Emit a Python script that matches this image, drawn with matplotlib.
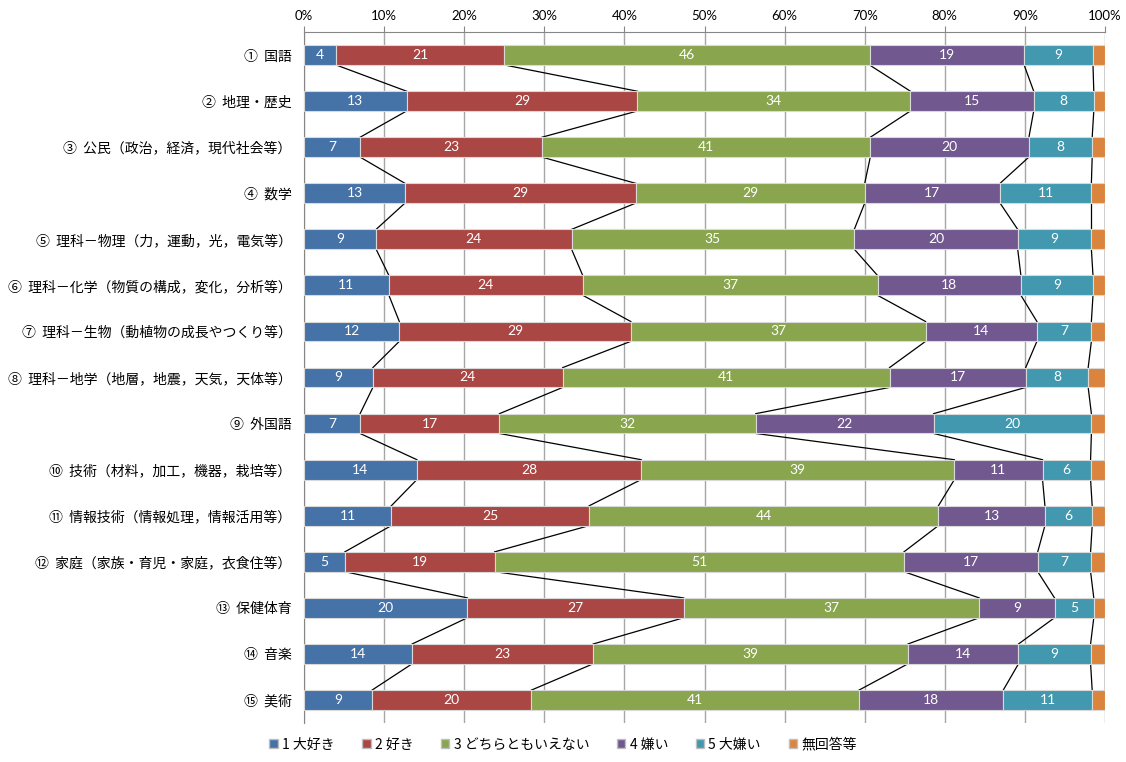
import numpy as np
from matplotlib import pyplot as plt
from matplotlib.patches import Patch

plt.rcParams['font.family'] = ['Noto Sans CJK JP', 'DejaVu Sans']

categories = ['①  国語', '②  地理・歴史', '③  公民（政治，経済，現代社会等）', '④  数学',
              '⑤  理科－物理（力，運動，光，電気等）', '⑥  理科－化学（物質の構成，変化，分析等）',
              '⑦  理科－生物（動植物の成長やつくり等）', '⑧  理科－地学（地層，地震，天気，天体等）',
              '⑨  外国語', '⑩  技術（材料，加工，機器，栽培等）', '⑪  情報技術（情報処理，情報活用等）',
              '⑫  家庭（家族・育児・家庭，衣食住等）', '⑬  保健体育', '⑭  音楽', '⑮  美術']
series_names = ['1 大好き', '2 好き', '3 どちらともいえない', '4 嫌い', '5 大嫌い', '無回答等']

love = [4.0, 12.8, 7.0, 12.6, 9.0, 10.6, 11.9, 8.6, 7.0, 14.1, 10.9, 5.1, 20.4, 13.5, 8.5]
like = [21.0, 28.8, 22.7, 28.8, 24.4, 24.2, 28.9, 23.7, 17.4, 28.0, 24.7, 18.7, 27.0, 22.6, 19.9]
neutral = [45.6, 34.1, 41.0, 28.6, 35.3, 36.8, 36.8, 40.8, 32.0, 39.1, 43.6, 51.1, 36.9, 39.3, 40.9]
dislike = [19.3, 15.4, 19.8, 16.9, 20.4, 17.9, 13.9, 17.0, 22.2, 11.0, 13.3, 16.7, 9.4, 13.8, 18.0]
hate = [8.6, 7.5, 7.9, 11.4, 9.2, 9.0, 6.8, 7.8, 19.7, 6.0, 5.9, 6.6, 4.9, 9.0, 11.1]
no_answer = [1.5, 1.4, 1.6, 1.7, 1.7, 1.5, 1.7, 2.1, 1.7, 1.8, 1.6, 1.8, 1.4, 1.8, 1.6]

colors = ['#4572A7', '#AA4643', '#89A54E', '#71588F', '#4198AF', '#DB843D']

data = np.array([love, like, neutral, dislike, hate, no_answer])
cum = np.cumsum(data, axis=0)
y = np.arange(len(categories))
h = 0.43

fig = plt.figure(figsize=(11.26, 7.62), dpi=100)
ax = fig.add_axes([304 / 1126, 1 - 723 / 762, 801 / 1126, 691 / 762])

# series lines between bars
for k in range(6):
    for i in range(len(y) - 1):
        ax.plot([cum[k, i], cum[k, i + 1]], [y[i] + h / 2, y[i + 1] - h / 2],
                color='black', lw=0.9, zorder=2)

left = np.zeros(len(y))
for k in range(6):
    ax.barh(y, data[k], left=left, height=h, color=colors[k], edgecolor='#d9d9d9',
            linewidth=0.8, zorder=3, label=series_names[k])
    if k < 5:
        for i in range(len(y)):
            ax.text(left[i] + data[k, i] / 2, y[i], str(int(np.floor(data[k, i] + 0.5))),
                    ha='center', va='center', color='white', fontsize=10,
                    family=['Lato', 'DejaVu Sans'], zorder=4)
    left = left + data[k]

ax.set_xlim(0, 100)
ax.set_ylim(len(y) - 0.5, -0.5)
ax.set_xticks(np.arange(0, 101, 10))
ax.set_xticklabels([f'{v}%' for v in range(0, 101, 10)], family=['Lato', 'DejaVu Sans'])
ax.xaxis.tick_top()
ax.tick_params(axis='x', length=4, color='#868686', labelsize=9.5, pad=3)
ax.set_yticks(y)
ax.set_yticklabels(categories, fontsize=10)
ax.tick_params(axis='y', length=0, pad=9)
ax.grid(axis='x', color='#a6a6a6', lw=1, zorder=0)
ax.set_axisbelow(True)
for s in ['right', 'bottom']:
    ax.spines[s].set_visible(False)
ax.spines['left'].set_color('#868686')
ax.spines['top'].set_color('#868686')

handles = [Patch(facecolor=c, edgecolor='#bfbfbf') for c in colors]
fig.legend(handles, series_names, loc='lower center', bbox_to_anchor=(0.5, -0.003), ncol=6,
           frameon=False, fontsize=10, handlelength=0.6, handleheight=0.6,
           handletextpad=0.3, columnspacing=2.0)

fig.savefig('out.png', dpi=100)
